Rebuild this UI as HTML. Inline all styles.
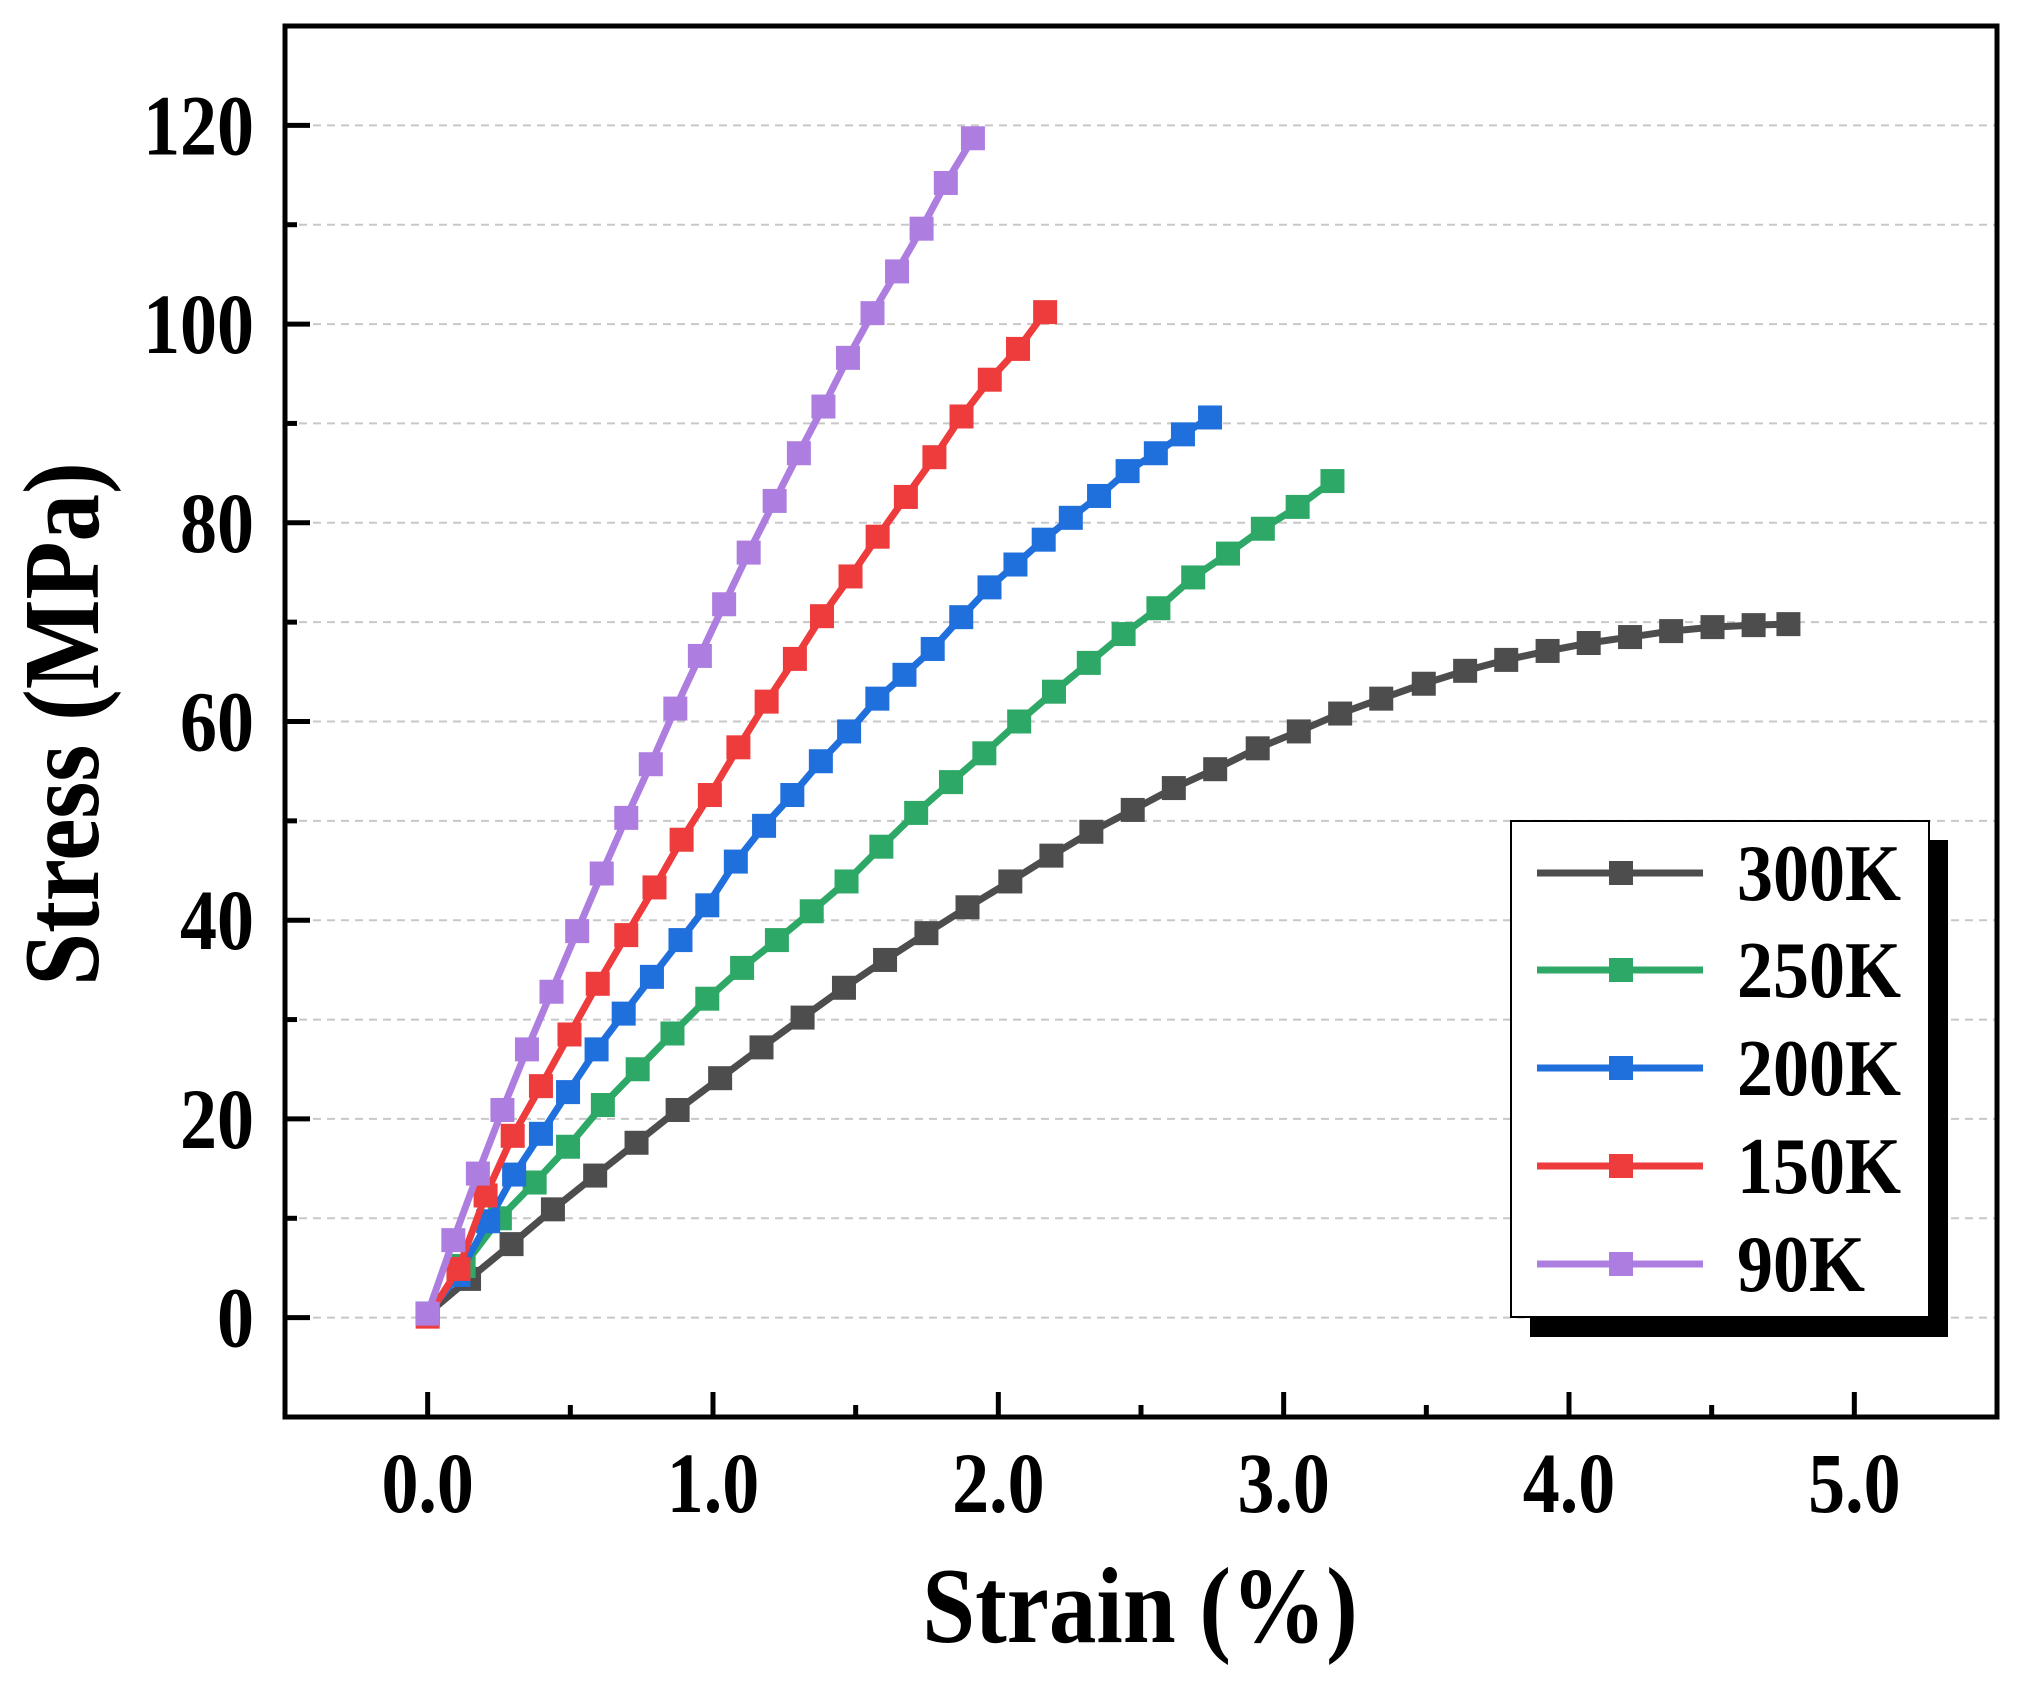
<!DOCTYPE html>
<html><head><meta charset="utf-8"><style>
html,body{margin:0;padding:0;background:#fff;}
svg text{font-family:"Liberation Serif",serif;font-weight:bold;fill:#000;}
</style></head><body>
<svg id="chart" width="2020" height="1685" viewBox="0 0 2020 1685" xmlns="http://www.w3.org/2000/svg">
<g id="grid"></g>
<g id="series"></g>
<rect x="285" y="26" width="1712" height="1391" fill="none" stroke="#000" stroke-width="5"/>
<g id="ticks"></g>
<text x="0" y="0" font-size="108" text-anchor="middle" transform="translate(1140,1642) scale(0.88,1)">Strain (%)</text>
<text x="0" y="0" font-size="108" text-anchor="middle" transform="translate(98,724) rotate(-90) scale(0.88,1)">Stress (MPa)</text>
<g id="legend">
<rect x="1530" y="840" width="418" height="497" fill="#000"/>
<rect x="1511" y="821" width="418" height="496" fill="#fff" stroke="#000" stroke-width="2"/>
</g>
</svg>
<script>
const labels = ["300K","250K","200K","150K","90K"];
const colors = ["#4d4d4d","#2ea866","#1f6fdc","#ee3b3b","#ad7ee0"];
const x300 = [0,0.145,0.294,0.439,0.587,0.732,0.876,1.025,1.17,1.314,1.459,1.603,1.748,1.892,2.042,2.186,2.326,2.471,2.615,2.760,2.909,3.053,3.198,3.342,3.491,3.636,3.780,3.925,4.069,4.214,4.358,4.503,4.647,4.769];
const y300 = [0.4,3.9,7.4,10.9,14.3,17.6,20.9,24.1,27.2,30.2,33.2,36.0,38.7,41.3,43.9,46.5,48.9,51.1,53.3,55.2,57.3,59.0,60.8,62.3,63.8,65.1,66.2,67.1,67.9,68.5,69.1,69.5,69.7,69.8];
const x250 = [0,0.126,0.253,0.375,0.492,0.614,0.736,0.858,0.980,1.102,1.224,1.346,1.468,1.590,1.712,1.834,1.951,2.073,2.195,2.317,2.439,2.561,2.683,2.805,2.927,3.049,3.171];
const y250 = [0.4,5.2,10.0,13.6,17.2,21.4,25.0,28.6,32.1,35.2,38.0,40.9,43.9,47.4,50.8,53.9,56.8,60.0,63.0,65.9,68.8,71.4,74.5,76.9,79.4,81.6,84.2];
const x200 = [0,0.108,0.212,0.303,0.397,0.492,0.592,0.687,0.786,0.886,0.980,1.080,1.179,1.278,1.378,1.477,1.576,1.671,1.770,1.870,1.969,2.060,2.159,2.254,2.353,2.453,2.552,2.647,2.742];
const y200 = [0.4,4.3,9.7,14.4,18.5,22.7,27.0,30.6,34.3,38.0,41.5,45.9,49.5,52.6,56.0,59.0,62.3,64.7,67.3,70.5,73.5,75.8,78.3,80.5,82.7,85.2,87.0,88.9,90.6];
const x150 = [0,0.108,0.203,0.298,0.397,0.497,0.596,0.696,0.795,0.890,0.989,1.089,1.188,1.287,1.382,1.482,1.577,1.676,1.776,1.871,1.970,2.069,2.164];
const y150 = [0.1,4.9,12.3,18.3,23.3,28.5,33.6,38.5,43.3,48.1,52.6,57.4,62.0,66.3,70.6,74.6,78.6,82.6,86.6,90.7,94.4,97.5,101.2];
const x90 = [0,0.090,0.176,0.262,0.348,0.434,0.524,0.610,0.696,0.782,0.868,0.954,1.039,1.125,1.216,1.301,1.387,1.473,1.559,1.645,1.731,1.816,1.911];
const y90 = [0.4,7.8,14.5,20.9,27.0,32.8,38.9,44.7,50.3,55.7,61.3,66.6,71.8,77.0,82.2,87.0,91.7,96.6,101.1,105.3,109.6,114.2,118.7];
const xTicks = ["0.0","1.0","2.0","3.0","4.0","5.0"];
const yTicks = ["0","20","40","60","80","100","120"];

const NS="http://www.w3.org/2000/svg";
const X0=285,X1=1997,Y0=1417,Y1=26,XMIN=-0.5,XMAX=5.5,YMIN=-10,YMAX=130;
function sx(v){return X0+(v-XMIN)/(XMAX-XMIN)*(X1-X0);}
function sy(v){return Y0-(v-YMIN)/(YMAX-YMIN)*(Y0-Y1);}
function mk(tag,attrs,parent){const e=document.createElementNS(NS,tag);for(const k in attrs)e.setAttribute(k,attrs[k]);parent.appendChild(e);return e;}

const grid=document.getElementById('grid');
for(let v=0;v<=120;v+=10){
  const l=mk('line',{x1:X0,x2:X1,y1:sy(v),y2:sy(v),stroke:'#c8c8c8','stroke-width':2,'stroke-dasharray':'8,6'},grid);
  
  
}
const ticks=document.getElementById('ticks');
for(let v=0;v<=120;v+=10){
  const major=v%20===0;
  const t=mk('line',{x1:X0,x2:X0+(major?25:12),y1:sy(v),y2:sy(v),stroke:'#000','stroke-width':5},ticks);
  
  
}
yTicks.forEach(s=>{
  const t=mk('text',{x:0,y:0,'font-size':86,'text-anchor':'end',transform:'translate(254,'+(sy(+s)+29)+') scale(0.86,1)'},ticks);
  t.textContent=s;
  
  
});
for(let v=0;v<=5.001;v+=0.5){
  const major=Math.abs(v-Math.round(v))<1e-6;
  const t=mk('line',{x1:sx(v),x2:sx(v),y1:Y0,y2:Y0-(major?25:12),stroke:'#000','stroke-width':5},ticks);
  
  
}
xTicks.forEach(s=>{
  const t=mk('text',{x:0,y:0,'font-size':86,'text-anchor':'middle',transform:'translate('+sx(+s)+',1512) scale(0.86,1)'},ticks);
  t.textContent=s;
  
  
});

const xs=[x300,x250,x200,x150,x90], ys=[y300,y250,y200,y150,y90];
const sg=document.getElementById('series');
xs.forEach((xa,i)=>{
  const g=mk('g',{},sg);
  
  
  const pts=xa.map((x,j)=>sx(x)+','+sy(ys[i][j])).join(' ');
  const pl=mk('polyline',{points:pts,fill:'none',stroke:colors[i],'stroke-width':7,'stroke-linejoin':'round'},g);
  
  
  xa.forEach((x,j)=>{
    const r=mk('rect',{x:sx(x)-12,y:sy(ys[i][j])-12,width:24,height:24,fill:colors[i]},g);
    
    
  });
});

const lg=document.getElementById('legend');
const ly=[873,970,1068,1166,1264];
labels.forEach((s,i)=>{
  const g=mk('g',{},lg);
  
  
  mk('line',{x1:1537,x2:1703,y1:ly[i],y2:ly[i],stroke:colors[i],'stroke-width':7},g);
  mk('rect',{x:1609,y:ly[i]-12,width:24,height:24,fill:colors[i]},g);
  const t=mk('text',{x:0,y:0,'font-size':80,transform:'translate(1737,'+(ly[i]+27)+') scale(0.9,1)'},g);
  t.textContent=s;
});
</script>
</body></html>
